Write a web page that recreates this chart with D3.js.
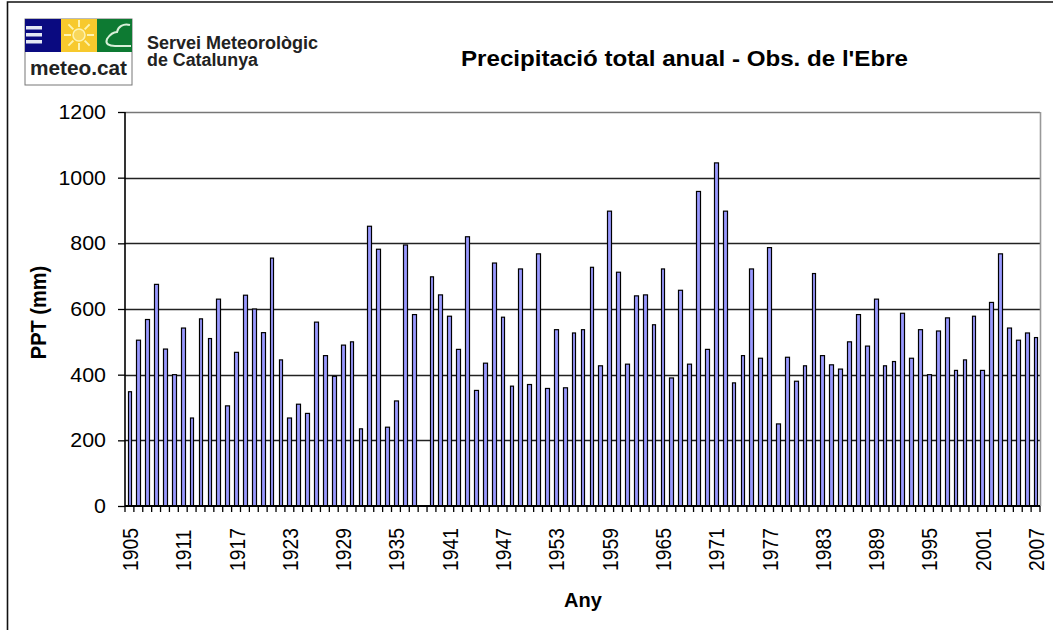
<!DOCTYPE html>
<html>
<head>
<meta charset="utf-8">
<script src="https://d3js.org/d3.v7.min.js"></script>
<style>
html, body { margin: 0; padding: 0; background: #fff; }
svg { display: block; font-family: 'Liberation Sans', Arial, sans-serif; }
</style>
</head>
<body>
<div id="chart"></div>
<script>
var years = d3.range(1905, 2008).map(String);

// mm per year. null = no bar (1938)
var ppt = [
  348, 505, 568, 675, 478, 400, 542, 268, 570, 510,
  630, 305, 468, 642, 600, 528, 755, 445, 268, 310,
  282, 560, 458, 395, 490, 500, 235, 852, 782, 240,
  320, 795, 583, null, 698, 643, 578, 477, 820, 352,
  435, 740, 575, 365, 722, 370, 768, 358, 537, 360,
  527, 537, 727, 427, 898, 712, 432, 640, 643, 552,
  722, 390, 657, 432, 958, 477, 1045, 898, 375, 458,
  722, 450, 787, 250, 453, 380, 427, 708, 458, 430,
  417, 500, 583, 487, 630, 427, 440, 587, 450, 537,
  400, 533, 573, 413, 445, 578, 413, 620, 768, 542,
  505, 527, 513
];
var yTicks = [0, 200, 400, 600, 800, 1000, 1200];

var width = 1053, height = 630;
var margin = {top: 112, right: 13, bottom: 124, left: 125};

var svg = d3.select("#chart").append("svg")
  .attr("width", width).attr("height", height);

// outer chart frame
svg.append("path")
  .attr("d", "M7.5,630V2H1053")
  .attr("fill", "none").attr("stroke", "#111").attr("stroke-width", 1.6);

var x = d3.scaleBand().domain(years)
  .range([margin.left, width - margin.right]);
var y = d3.scaleLinear().domain([0, 1200])
  .range([height - margin.bottom, margin.top]);

// grid
svg.append("g").selectAll("line")
  .data(yTicks.slice(1))
  .enter().append("line")
  .attr("x1", margin.left).attr("x2", width - margin.right)
  .attr("y1", function(d) { return Math.round(y(d)) + 0.5; })
  .attr("y2", function(d) { return Math.round(y(d)) + 0.5; })
  .attr("stroke", function(d) { return d == 1200 ? "#777" : "#222"; })
  .attr("stroke-width", 1.6);

// right edge of the plot
svg.append("line")
  .attr("x1", width - margin.right + 0.5).attr("x2", width - margin.right + 0.5)
  .attr("y1", margin.top).attr("y2", height - margin.bottom)
  .attr("stroke", "#999").attr("stroke-width", 1.6);

// bars, snapped to whole pixels like the original
var barW = x.bandwidth() * 0.42;
function barLeft(d) { return Math.round(x(d.year) + (x.bandwidth() - barW) / 2) + 0.5; }
svg.append("g").selectAll("rect")
  .data(ppt.map(function(v, i) { return {year: years[i], v: v}; })
    .filter(function(d) { return d.v !== null; }))
  .enter().append("rect")
  .attr("x", barLeft)
  .attr("y", function(d) { return y(d.v); })
  .attr("width", function(d) {
    return Math.round(x(d.year) + (x.bandwidth() + barW) / 2) + 0.5 - barLeft(d);
  })
  .attr("height", function(d) { return y(0) - y(d.v); })
  .attr("fill", "#9999ff")
  .attr("stroke", "#000")
  .attr("stroke-width", 1.2);

// y axis
var yAxis = d3.axisLeft(y).tickValues(yTicks).tickSize(7).tickPadding(12).tickFormat(d3.format("d"));
var gy = svg.append("g")
  .attr("transform", "translate(" + margin.left + ",0)")
  .call(yAxis);
gy.select(".domain").attr("stroke", "#000").attr("stroke-width", 1.6).attr("d",
  "M0," + margin.top + "V" + (height - margin.bottom));
gy.selectAll("text")
  .attr("font-size", 20).attr("fill", "#000").attr("font-family", "'Liberation Sans'")
  .attr("textLength", function(d) { return String(d).length * 11.9; })
  .attr("lengthAdjust", "spacingAndGlyphs");
gy.selectAll("line").attr("stroke", "#000").attr("stroke-width", 1.3);

// x axis: tick between each year, label every 6th
var xBase = height - margin.bottom;
svg.append("g").selectAll("line")
  .data(years.concat(["end"]))
  .enter().append("line")
  .attr("x1", function(d) { return d == "end" ? width - margin.right : x(d); })
  .attr("x2", function(d) { return d == "end" ? width - margin.right : x(d); })
  .attr("y1", xBase).attr("y2", xBase + 6)
  .attr("stroke", "#000").attr("stroke-width", 1.3);
svg.append("line")
  .attr("x1", margin.left).attr("x2", width - margin.right)
  .attr("y1", xBase).attr("y2", xBase)
  .attr("stroke", "#000").attr("stroke-width", 1.8);

svg.append("g").selectAll("text")
  .data(years.filter(function(d, i) { return i % 6 == 0; }))
  .enter().append("text")
  .attr("transform", function(d) {
    return "translate(" + (x(d) + x.bandwidth() / 2 + 8.5) + "," + (xBase + 65) + ") rotate(-90) scale(1,1.12)";
  })
  .attr("font-size", 19.3)
  .attr("fill", "#000")
  .text(function(d) { return d; });

// titles
svg.append("text").attr("x", 461).attr("y", 66)
  .attr("font-size", 21.5).attr("font-weight", "bold").attr("fill", "#000")
  .attr("textLength", 447).attr("lengthAdjust", "spacingAndGlyphs")
  .text("Precipitació total anual - Obs. de l'Ebre");
svg.append("text").attr("x", 583).attr("y", 607).attr("text-anchor", "middle")
  .attr("font-size", 20).attr("font-weight", "bold").attr("fill", "#000")
  .text("Any");
svg.append("text")
  .attr("transform", "translate(46,312.5) rotate(-90) scale(1,1.08)").attr("text-anchor", "middle")
  .attr("font-size", 20).attr("font-weight", "bold").attr("fill", "#000")
  .text("PPT (mm)");

// logo
var logo = svg.append("g").attr("transform", "translate(25,19)");
logo.append("rect").attr("width", 107).attr("height", 66).attr("fill", "#fff").attr("stroke", "#777");
logo.append("rect").attr("width", 36).attr("height", 33).attr("fill", "#0a0a80");
logo.append("rect").attr("x", 36).attr("width", 36).attr("height", 33).attr("fill", "#f7c92d");
logo.append("rect").attr("x", 72).attr("width", 35).attr("height", 33).attr("fill", "#0d7a32");
[7, 14, 21].forEach(function(d) {
  logo.append("rect").attr("x", 1).attr("y", d).attr("width", 16).attr("height", 3.5).attr("fill", "#e4e8f4");
});
var sun = logo.append("g").attr("transform", "translate(54,16)");
d3.range(8).forEach(function(i) {
  var a = i * Math.PI / 4;
  sun.append("line")
    .attr("x1", 8 * Math.cos(a)).attr("y1", 8 * Math.sin(a))
    .attr("x2", 15 * Math.cos(a)).attr("y2", 15 * Math.sin(a))
    .attr("stroke", "#fdf3b0").attr("stroke-width", 2);
});
sun.append("circle").attr("r", 6).attr("fill", "#f9d75a").attr("stroke", "#fdf3b0").attr("stroke-width", 1.5);
logo.append("path")
  .attr("d", "M105,6C98,4 93,8 92,13C87,13 84,17 82,20C80,25 84,27 90,27H106")
  .attr("fill", "none").attr("stroke", "#d8f0d8").attr("stroke-width", 2);
logo.append("text").attr("x", 53.5).attr("y", 56).attr("text-anchor", "middle")
  .attr("font-size", 20).attr("font-weight", "bold").attr("fill", "#222")
  .attr("textLength", 97).attr("lengthAdjust", "spacingAndGlyphs").text("meteo.cat");
svg.append("text").attr("x", 147).attr("y", 48.5)
  .attr("font-size", 18).attr("font-weight", "bold").attr("fill", "#222")
  .attr("textLength", 171).attr("lengthAdjust", "spacingAndGlyphs").text("Servei Meteorològic");
svg.append("text").attr("x", 147).attr("y", 66)
  .attr("font-size", 18).attr("font-weight", "bold").attr("fill", "#222")
  .attr("textLength", 111).attr("lengthAdjust", "spacingAndGlyphs").text("de Catalunya");
</script>
</body>
</html>
